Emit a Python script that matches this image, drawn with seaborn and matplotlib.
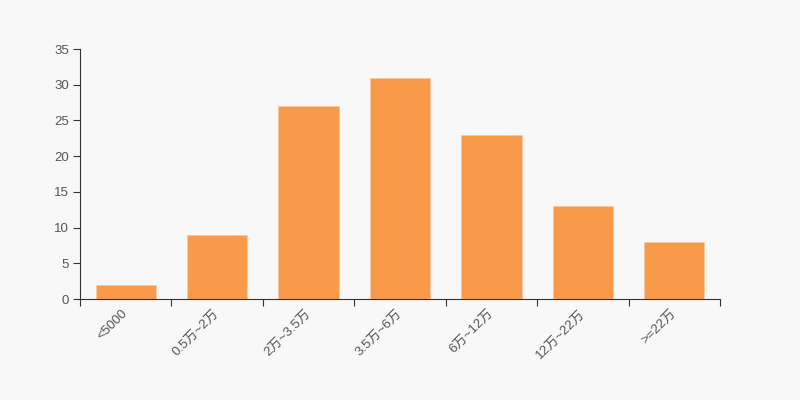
import matplotlib
matplotlib.use("Agg")
import matplotlib.pyplot as plt
import seaborn as sns
import pandas as pd

# data
categories = ["<5000", "0.5万~2万", "2万~3.5万", "3.5万~6万", "6万~12万", "12万~22万", ">=22万"]
counts = [2, 9, 27, 31, 23, 13, 8]

BG = "#f8f8f8"
BAR = "#f89a4a"
TXT = "#333333"
LBL = "#555555"

sns.set_theme(style="ticks")
plt.rcParams["font.family"] = ["Liberation Sans", "Noto Sans CJK SC", "DejaVu Sans"]

df = pd.DataFrame({"range": categories, "count": counts})

fig = plt.figure(figsize=(8, 4), dpi=100, facecolor=BG)
ax = fig.add_axes([0.1, 0.2525, 0.8, 0.625])
ax.set_facecolor(BG)

sns.barplot(data=df, x="range", y="count", color=BAR, width=0.66,
            saturation=1, edgecolor="#fbc9a0", linewidth=0.6, ax=ax)

ax.set_xlim(-0.5, len(categories) - 0.5)
ax.set_ylim(0, 35)
ax.set_yticks(range(0, 36, 5))
ax.set_xlabel("")
ax.set_ylabel("")

# labels at bar centres, tick marks on category boundaries
ax.set_xticks(range(len(categories)))
ax.set_xticklabels(categories, rotation=45, ha="right", va="center",
                   rotation_mode="anchor")
ax.tick_params(axis="x", which="major", length=0, pad=9, labelsize=9.5, labelcolor=LBL)
ax.set_xticks([i - 0.5 for i in range(len(categories) + 1)], minor=True)
ax.tick_params(axis="x", which="minor", length=5, color=TXT, width=0.8)
ax.tick_params(axis="y", length=5, color=TXT, width=0.8, labelsize=9.5, labelcolor=LBL, pad=3)

sns.despine(ax=ax)
for side in ["left", "bottom"]:
    ax.spines[side].set_color(TXT)
    ax.spines[side].set_linewidth(0.8)

fig.savefig("out.png", dpi=100, facecolor=BG)
